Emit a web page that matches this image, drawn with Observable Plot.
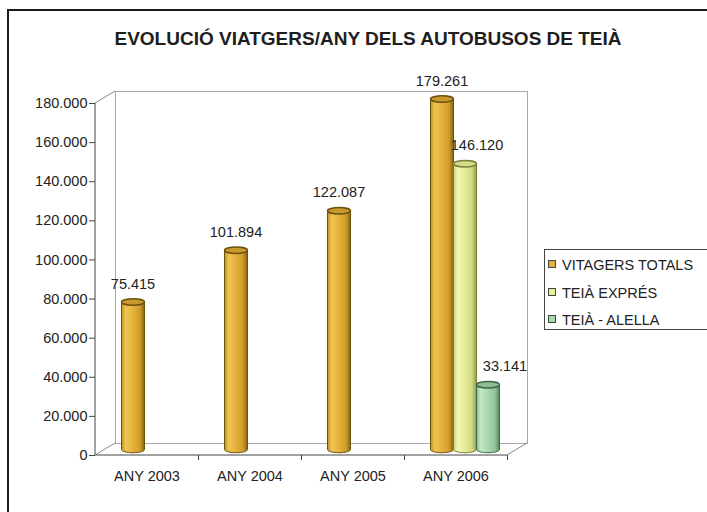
<!DOCTYPE html>
<html><head><meta charset="utf-8">
<script src="https://cdn.jsdelivr.net/npm/d3@7"></script>
<script src="https://cdn.jsdelivr.net/npm/@observablehq/plot@0.6"></script>
<style>
body{margin:0;background:#fff;font-family:"Liberation Sans",Arial,sans-serif;}
#wrap{position:relative;width:707px;height:512px;overflow:hidden;background:#fff;}
#chart{position:absolute;left:0;top:0;}
#border{position:absolute;left:7px;top:9px;width:760px;height:560px;border-left:2px solid #1a1a1a;border-top:2px solid #1a1a1a;pointer-events:none;}
#title{position:absolute;top:28px;left:0;width:736px;text-align:center;font-weight:bold;font-size:19px;color:#1e1e1e;}
#legend{position:absolute;left:544px;top:249px;width:190px;height:79px;border:1px solid #444;background:#fff;font-size:14.5px;color:#222;}
#legend .it{position:absolute;left:3px;height:16px;line-height:16px;white-space:nowrap;}
#legend .sw{display:inline-block;width:6px;height:6px;border:1px solid #3a4a3a;margin-right:6px;vertical-align:2px;}
</style></head>
<body>
<div id="wrap">
  <div id="chart"></div>
  <div id="title"></div>
  <div id="legend"></div>
  <div id="border"></div>
</div>
<script>
const titleText = "EVOLUCIÓ VIATGERS/ANY DELS AUTOBUSOS DE TEIÀ";
const years = ["ANY 2003", "ANY 2004", "ANY 2005", "ANY 2006"];
const seriesNames = ["VITAGERS TOTALS", "TEIÀ EXPRÉS", "TEIÀ - ALELLA"];
const totals = [75415, 101894, 122087, 179261];
const expres = [null, null, null, 146120];
const alella = [null, null, null, 33141];
const yTicks = [0, 20000, 40000, 60000, 80000, 100000, 120000, 140000, 160000, 180000];

const seriesValues = [totals, expres, alella];
const colors = ["#E2B03A", "#E6EE9C", "#A8D8B0"];
const grads = [
  ["#B8891E", "#EFC552", "#E6B23C", "#CF9E2A", "#8E6A12"],
  ["#C6CC74", "#F2F7B8", "#E6EE9C", "#D2DA84", "#9AA050"],
  ["#7FB68A", "#C4E8CA", "#A8D8B0", "#92C49A", "#5E8C66"]
];
const edge = ["#6B5210", "#7A7E3A", "#3E6646"];
const topFill = ["#C89A2C", "#D4DC88", "#8EBE98"];

const loc = d3.formatLocale({thousands: ".", grouping: [3], decimal: ","});
const fmt = loc.format(",d");

const rows = years.flatMap((year, i) =>
  seriesValues.map((vals, s) => ({year, s, series: seriesNames[s], value: vals[i]}))
).filter(d => d.value != null);

// layout (pixels)
const band = 103, lead = 16, slot = 23, half = slot / 2;
const depthX = 20, depthY = -12, midX = 10, midY = -6;
const labelShift = [0, 12, 17];

const ellipse = {
  draw(ctx, size) {
    const rx = Math.sqrt(size / Math.PI), ry = rx * 0.28, k = 0.5523;
    ctx.moveTo(rx, 0);
    ctx.bezierCurveTo(rx, ry * k, rx * k, ry, 0, ry);
    ctx.bezierCurveTo(-rx * k, ry, -rx, ry * k, -rx, 0);
    ctx.bezierCurveTo(-rx, -ry * k, -rx * k, -ry, 0, -ry);
    ctx.bezierCurveTo(rx * k, -ry, rx, -ry * k, rx, 0);
    ctx.closePath();
  }
};

const marks = [
  Plot.frame({dx: depthX, dy: depthY, stroke: "#a8a8a8", fill: "#fff"}),
  Plot.axisY({ticks: yTicks, tickFormat: fmt, tickSize: 6, tickPadding: 2, fontSize: 14.5, fill: "#222", label: null, stroke: "#444"}),
  Plot.axisX({tickSize: 0, tickPadding: 15, fontSize: 14.5, fill: "#222", label: null}),
  Plot.axisX({tickSize: 5, text: null, dx: band / 2, stroke: "#444", label: null})
];

seriesNames.forEach((name, s) => {
  const data = rows.filter(d => d.s === s);
  const cx = lead + slot * s + half - band / 2 + midX;
  marks.push(
    Plot.dot(data, {x: "year", y: () => 0, r: half, symbol: ellipse, fill: `url(#grad${s})`, stroke: edge[s], strokeWidth: 1, dx: cx, dy: midY}),
    Plot.barY(data, {x: "year", y: "value", fill: `url(#grad${s})`, insetLeft: lead + slot * s, insetRight: band - lead - slot * (s + 1), dx: midX, dy: midY}),
    Plot.ruleX(data, {x: "year", y1: 0, y2: "value", stroke: edge[s], strokeWidth: 1, dx: cx - half, dy: midY}),
    Plot.ruleX(data, {x: "year", y1: 0, y2: "value", stroke: edge[s], strokeWidth: 1, dx: cx + half, dy: midY}),
    Plot.dot(data, {x: "year", y: "value", r: half, symbol: ellipse, fill: topFill[s], stroke: edge[s], strokeWidth: 1.5, dx: cx, dy: midY}),
    Plot.text(data, {x: "year", y: "value", text: d => fmt(d.value), dx: cx + labelShift[s], dy: -24, fontSize: 14.5, fill: "#222"})
  );
});

const plot = Plot.plot({
  width: 707,
  height: 512,
  marginLeft: 95,
  marginRight: 200,
  marginTop: 103,
  marginBottom: 57,
  style: {fontFamily: "'Liberation Sans', Arial, sans-serif", background: "transparent"},
  x: {domain: years, padding: 0, axis: null},
  y: {domain: [0, 180000], axis: null},
  marks
});

// gradients for the cylinder shading
const defs = d3.select(plot).insert("defs", ":first-child");
grads.forEach((g, s) => {
  const lg = defs.append("linearGradient").attr("id", `grad${s}`).attr("x1", 0).attr("x2", 1).attr("y1", 0).attr("y2", 0);
  [0, 0.2, 0.5, 0.82, 1].forEach((o, j) => lg.append("stop").attr("offset", o).attr("stop-color", g[j]));
});

// 3D wall edges and front axes drawn with the plot's own scales
const xs = plot.scale("x"), ys = plot.scale("y");
const x0 = xs.apply(years[0]);
const x1 = xs.apply(years[years.length - 1]) + xs.bandwidth;
const yb = ys.apply(0), yt = ys.apply(180000);
const g = d3.select(plot).insert("g", "g").attr("stroke", "#888").attr("fill", "none");
[[x0, yt], [x0, yb], [x1, yb]].forEach(([px, py]) =>
  g.append("line").attr("x1", px).attr("y1", py).attr("x2", px + depthX).attr("y2", py + depthY)
);
const front = d3.select(plot).insert("g", "g").attr("stroke", "#444");
front.append("line").attr("x1", x0).attr("x2", x0).attr("y1", yt).attr("y2", yb);
front.append("line").attr("x1", x0).attr("x2", x1).attr("y1", yb).attr("y2", yb);

document.getElementById("chart").appendChild(plot);
document.getElementById("title").textContent = titleText;

const legend = document.getElementById("legend");
seriesNames.forEach((name, s) => {
  const it = document.createElement("div");
  it.className = "it";
  it.style.top = (7 + s * 27.5) + "px";
  const sw = document.createElement("span");
  sw.className = "sw";
  sw.style.background = colors[s];
  it.appendChild(sw);
  it.appendChild(document.createTextNode(name));
  legend.appendChild(it);
});
</script>
</body></html>
